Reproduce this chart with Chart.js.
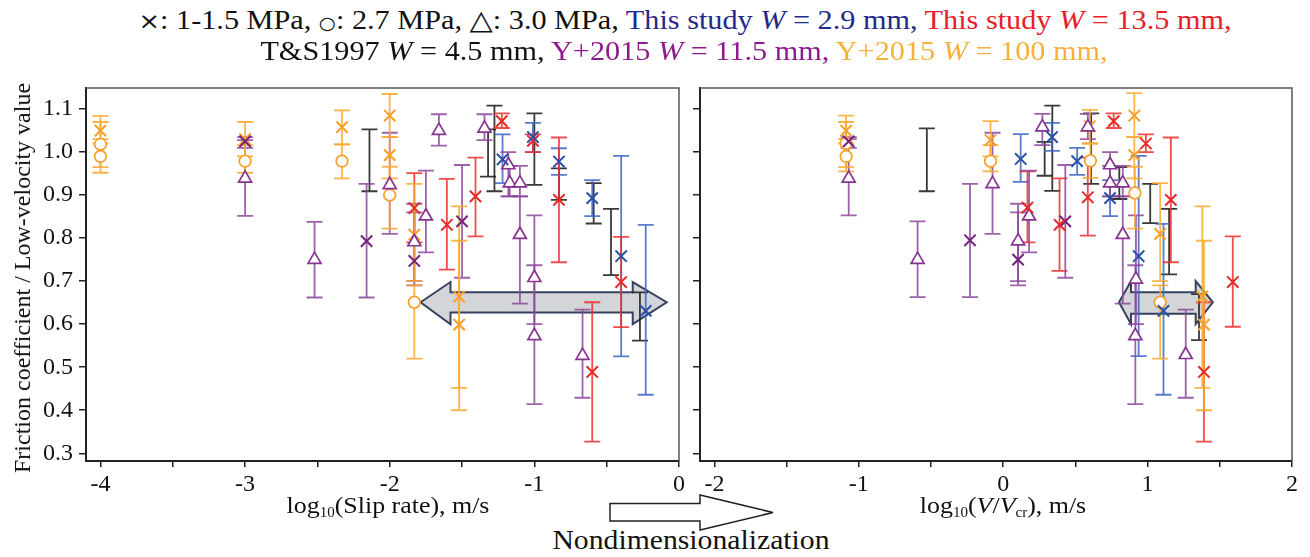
<!DOCTYPE html>
<html><head><meta charset="utf-8">
<script src="https://cdn.jsdelivr.net/npm/chart.js@4.4.1/dist/chart.umd.min.js"></script>
<style>
html,body{margin:0;padding:0;background:#fff;width:1310px;height:557px;overflow:hidden;font-family:"Liberation Serif","Times New Roman",serif;color:#111;}
#wrapL{position:absolute;left:0;top:60px;width:690px;height:460px;}
#wrapR{position:absolute;left:690px;top:60px;width:620px;height:460px;}
.t{position:absolute;white-space:nowrap;line-height:1;font-family:"Liberation Serif","Times New Roman",serif;}
.c{transform:translateX(-50%);}
sub{font-size:58%;vertical-align:-0.28em;line-height:0;}
.sym{font-family:"DejaVu Sans",sans-serif;font-size:85%;}
</style></head><body>
<script>
// ---------------- DATA ----------------
// each entry: [x, y, lowerBar, upperBar]
// Left panel: x = log10(slip rate)
const L_blueX   = [[-1.22,0.983,0.928,1.041],[-1.01,1.035,1.0,1.068],[-0.83,0.978,0.947,1.009],[-0.60,0.893,0.851,0.935],[-0.40,0.758,0.525,0.991],[-0.23,0.631,0.436,0.831]];
const L_redX    = [[-1.83,0.870,0.79,0.951],[-1.605,0.831,0.727,0.938],[-1.407,0.897,0.804,0.987],[-1.225,1.072,1.056,1.090],[-1.01,1.026,1.0,1.041],[-0.83,0.889,0.744,1.034],[-0.40,0.698,0.593,0.803],[-0.60,0.489,0.327,0.651]];
const L_black   = [[-2.14,0.98,0.909,1.053],[-1.32,1.0,0.943,1.053],[-1.276,1.01,0.909,1.108],[-1.0,1.0,0.924,1.090],[-0.83,0.93,0.889,0.962],[-0.59,0.88,0.834,0.928],[-0.47,0.79,0.714,0.868],[-0.27,0.62,0.562,0.674]];
const L_purpleX = [[-3.0,1.025,1.01,1.035],[-2.16,0.793,0.662,0.926],[-1.83,0.747,0.69,0.86],[-1.50,0.839,0.708,0.97]];
const L_purpleT = [[-3.0,0.939,0.852,1.028],[-2.52,0.75,0.662,0.838],[-2.0,0.924,0.81,1.045],[-1.83,0.791,0.70,0.88],[-1.75,0.851,0.767,0.957],[-1.66,1.05,1.015,1.088],[-1.345,1.055,1.028,1.088],[-1.18,0.97,0.897,1.0],[-1.17,0.928,0.897,0.968],[-1.10,0.928,0.897,0.968],[-1.10,0.808,0.648,0.897],[-1.0,0.708,0.60,0.853],[-1.0,0.573,0.414,0.737],[-0.667,0.527,0.429,0.634]];
const L_orangeX = [[-4.0,1.05,1.02,1.084],[-3.0,1.03,0.99,1.07],[-2.33,1.058,1.018,1.097],[-2.0,1.085,1.035,1.135],[-2.0,0.993,0.939,1.035],[-1.83,0.808,0.70,0.926],[-1.52,0.664,0.452,0.874],[-1.52,0.599,0.40,0.794]];
const L_orangeO = [[-4.0,1.018,0.965,1.07],[-4.0,0.99,0.952,1.03],[-3.0,0.979,0.952,1.016],[-2.33,0.979,0.939,1.018],[-2.0,0.90,0.822,0.966],[-1.83,0.651,0.52,0.69]];
// Right panel: x = log10(V/Vcr)
const R_blueX   = [[0.121,0.984,0.931,1.042],[0.338,1.035,1.003,1.068],[0.512,0.979,0.947,1.01],[0.74,0.893,0.851,0.935],[0.938,0.758,0.526,0.991],[1.11,0.631,0.436,0.833]];
const R_redX    = [[0.168,0.871,0.79,0.955],[0.39,0.831,0.724,0.939],[0.586,0.895,0.806,0.987],[0.765,1.072,1.056,1.09],[0.988,1.02,1.0,1.041],[1.161,0.889,0.744,1.034],[1.59,0.698,0.594,0.804],[1.39,0.489,0.327,0.651]];
const R_black   = [[-0.529,0.98,0.909,1.055],[0.287,0.98,0.945,1.024],[0.34,1.0,0.91,1.108],[0.609,1.0,0.926,1.09],[0.804,0.93,0.891,0.965],[1.018,0.88,0.835,0.926],[1.149,0.79,0.716,0.868],[1.356,0.62,0.563,0.67]];
const R_purpleX = [[-1.07,1.025,1.01,1.035],[-0.23,0.795,0.663,0.926],[0.103,0.75,0.69,0.86],[0.43,0.839,0.708,0.97]];
const R_purpleT = [[-1.07,0.939,0.853,1.03],[-0.593,0.75,0.663,0.839],[-0.074,0.926,0.81,1.045],[0.103,0.793,0.70,0.88],[0.179,0.851,0.767,0.957],[0.271,1.058,1.016,1.089],[0.586,1.058,1.03,1.089],[0.74,0.97,0.897,1.0],[0.74,0.928,0.897,0.968],[0.828,0.928,0.897,0.968],[0.828,0.808,0.648,0.897],[0.919,0.704,0.60,0.853],[0.915,0.573,0.414,0.737],[1.264,0.529,0.429,0.634]];
const R_orangeX = [[-1.088,1.05,1.02,1.085],[-0.088,1.028,0.99,1.072],[0.60,1.06,1.02,1.098],[0.908,1.085,1.035,1.137],[0.908,0.993,0.939,1.035],[1.087,0.81,0.70,0.928],[1.379,0.664,0.452,0.874],[1.39,0.599,0.40,0.794]];
const R_orangeO = [[-1.088,1.02,0.965,1.07],[-1.088,0.99,0.955,1.03],[-0.088,0.979,0.955,1.016],[0.604,0.98,0.94,1.02],[0.912,0.905,0.822,0.966],[1.087,0.651,0.52,0.69]];

// Tick values
const L_xTicks = [-4,-3.5,-3,-2.5,-2,-1.5,-1,-0.5,0];
const R_xTicks = [-2,-1.5,-1,-0.5,0,0.5,1,1.5,2];
const yTicks   = [0.3,0.4,0.5,0.6,0.7,0.8,0.9,1.0,1.1];

// Annotation arrows (data coordinates)
const L_arrow = {tipL:-1.787, backL:-1.58, backR:-0.32, tipR:-0.085, y:0.651, s0:0.627, s1:0.674, h0:0.600, h1:0.698};
const R_arrow = {tipL:0.802, backL:0.885, backR:1.333, tipR:1.452, y:0.651, s0:0.624, s1:0.674, h0:0.600, h1:0.700};
</script>

<div id="wrapL"><canvas id="cL" width="690" height="460"></canvas></div>
<div id="wrapR"><canvas id="cR" width="620" height="460"></canvas></div>

<div class="t c" style="left:685px;top:6px;font-size:27px;transform:translateX(-50%) scaleX(1.12);"><span class="sym">×</span>: 1-1.5 MPa, <span class="sym" style="font-size:65%">○</span>: 2.7 MPa, <span class="sym" style="font-size:100%">△</span>: 3.0 MPa, <span style="color:#1f2a8a">This study <i>W</i> = 2.9 mm,</span> <span style="color:#e8202a">This study <i>W</i> = 13.5 mm,</span></div>
<div class="t c" style="left:684px;top:38px;font-size:27px;transform:translateX(-50%) scaleX(1.12);">T&amp;S1997 <i>W</i> = 4.5 mm, <span style="color:#8e1b8e">Y+2015 <i>W</i> = 11.5 mm,</span> <span style="color:#f5b23a">Y+2015 <i>W</i> = 100 mm,</span></div>

<div class="t" style="left:22px;top:278px;font-size:24px;transform:translate(-50%,-50%) rotate(-90deg);">Friction coefficient / Low-velocity value</div>

<div class="t c" style="left:388px;top:493px;font-size:24px;transform:translateX(-50%) scaleX(1.08);">log<sub>10</sub>(Slip rate), m/s</div>
<div class="t c" style="left:1003px;top:493px;font-size:24px;transform:translateX(-50%) scaleX(1.08);">log<sub>10</sub>(<i>V</i>/<i>V</i><sub>cr</sub>), m/s</div>
<div class="t c" style="left:691px;top:527px;font-size:27px;transform:translateX(-50%) scaleX(1.1);">Nondimensionalization</div>

<svg style="position:absolute;left:0;top:0" width="1310" height="557">
  <polygon points="610,503.5 700,503.5 700,495 773,512.5 700,530 700,521 610,521" fill="#fff" stroke="#222" stroke-width="1.5"/>
</svg>

<script>
const SERIES = [
  {key:'black',   marker:false,      color:'#333',    bar:'rgba(35,35,35,0.9)'},
  {key:'blueX',   marker:'crossRot', color:'#2b50a6', bar:'rgba(60,100,195,0.85)'},
  {key:'redX',    marker:'crossRot', color:'#e62a2a', bar:'rgba(236,45,45,0.85)'},
  {key:'purpleX', marker:'crossRot', color:'#74237e', bar:'rgba(140,70,155,0.85)'},
  {key:'purpleT', marker:'triangle', color:'#86348f', bar:'rgba(140,70,155,0.85)'},
  {key:'orangeX', marker:'crossRot', color:'#f6a02a', bar:'rgba(248,168,45,0.85)'},
  {key:'orangeO', marker:'circle',   color:'#f6a02a', bar:'rgba(248,168,45,0.85)'},
];
const LEFT  = {black:L_black, blueX:L_blueX, redX:L_redX, purpleX:L_purpleX, purpleT:L_purpleT, orangeX:L_orangeX, orangeO:L_orangeO};
const RIGHT = {black:R_black, blueX:R_blueX, redX:R_redX, purpleX:R_purpleX, purpleT:R_purpleT, orangeX:R_orangeX, orangeO:R_orangeO};

function buildDatasets(src){
  return SERIES.map(s => ({
    label: s.key,
    data: src[s.key].map(([x,y,lo,hi]) => ({x,y,lo,hi})),
    barColor: s.bar,
    pointStyle: s.marker || 'circle',
    pointRadius: !s.marker ? 0 : (s.marker==='triangle' ? 7.5 : (s.marker==='circle' ? 5.8 : 8)),
    pointHoverRadius: 0,
    borderColor: s.color,
    backgroundColor: s.marker==='crossRot' ? s.color : '#fff',
    borderWidth: s.marker==='crossRot' ? 2 : 1.7,
    showLine: false
  }));
}

const CAP = 8;
const arrowPlugin = {
  id:'arrow',
  beforeDatasetsDraw(chart, args, opts){
    const a = opts.spec; if(!a) return;
    const {ctx, scales:{x,y}} = chart;
    const X = v => x.getPixelForValue(v), Y = v => y.getPixelForValue(v);
    ctx.save();
    ctx.beginPath();
    ctx.moveTo(X(a.tipL), Y(a.y));
    ctx.lineTo(X(a.backL), Y(a.h1));
    ctx.lineTo(X(a.backL), Y(a.s1));
    ctx.lineTo(X(a.backR), Y(a.s1));
    ctx.lineTo(X(a.backR), Y(a.h1));
    ctx.lineTo(X(a.tipR), Y(a.y));
    ctx.lineTo(X(a.backR), Y(a.h0));
    ctx.lineTo(X(a.backR), Y(a.s0));
    ctx.lineTo(X(a.backL), Y(a.s0));
    ctx.lineTo(X(a.backL), Y(a.h0));
    ctx.closePath();
    ctx.fillStyle = '#d3d5d8'; ctx.fill();
    ctx.strokeStyle = '#36425f'; ctx.lineWidth = 2; ctx.lineJoin='miter'; ctx.stroke();
    ctx.restore();
  }
};
const errorBars = {
  id:'errorBars',
  beforeDatasetsDraw(chart){
    const {ctx, scales:{x,y}} = chart;
    ctx.save();
    ctx.lineWidth = 1.8;
    chart.data.datasets.forEach(ds => {
      ctx.strokeStyle = ds.barColor;
      ds.data.forEach(p => {
        const px = x.getPixelForValue(p.x), yl = y.getPixelForValue(p.lo), yh = y.getPixelForValue(p.hi);
        ctx.beginPath();
        ctx.moveTo(px, yl); ctx.lineTo(px, yh);
        ctx.moveTo(px-CAP, yl); ctx.lineTo(px+CAP, yl);
        ctx.moveTo(px-CAP, yh); ctx.lineTo(px+CAP, yh);
        ctx.stroke();
      });
    });
    ctx.restore();
  }
};
const frame = {
  id:'frame',
  afterDraw(chart){
    const {ctx, chartArea:a} = chart;
    ctx.save();
    ctx.strokeStyle = '#555'; ctx.lineWidth = 1.5;
    ctx.beginPath();
    ctx.moveTo(a.left, a.top); ctx.lineTo(a.right, a.top); ctx.lineTo(a.right, a.bottom);
    ctx.stroke();
    ctx.restore();
  }
};

const tickFont = {family:'"Liberation Serif","Times New Roman",serif', size:24};
function makeChart(id, src, xMin, xMax, xTicks, yWidth, showYLabels, padR, arrow){
  return new Chart(document.getElementById(id), {
    type:'scatter',
    data:{datasets: buildDatasets(src)},
    options:{
      responsive:false, animation:false, events:[],
      layout:{padding:{top:28, right:padR, left:0, bottom:0}},
      plugins:{legend:{display:false}, tooltip:{enabled:false}, arrow:{spec:arrow}},
      scales:{
        x:{type:'linear', min:xMin, max:xMax,
           afterBuildTicks: ax => { ax.ticks = xTicks.map(v => ({value:v})); },
           afterFit: s => { s.height = 59; },
           grid:{drawOnChartArea:false, drawTicks:true, tickLength:6, color:'#222', lineWidth:1.5},
           border:{display:true, color:'#222', width:2},
           ticks:{autoSkip:false, maxRotation:0, padding:3, font:tickFont, color:'#111',
                  callback: v => Number.isInteger(v) ? String(v) : ''}},
        y:{type:'linear', min:0.282, max:1.149,
           afterBuildTicks: ax => { ax.ticks = yTicks.map(v => ({value:v})); },
           afterFit: s => { s.width = yWidth; },
           grid:{drawOnChartArea:false, drawTicks:true, tickLength:7, color:'#222', lineWidth:1.5},
           border:{display:true, color:'#222', width:2},
           ticks:{padding:6, font:tickFont, color:'#111', display:showYLabels,
                  callback: v => v.toFixed(1)}}
      }
    },
    plugins:[arrowPlugin, errorBars, frame]
  });
}
makeChart('cL', LEFT, -4.1, 0, L_xTicks, 86, true, 11, L_arrow);
makeChart('cR', RIGHT, -2.1, 2.0, R_xTicks, 7, false, 18, R_arrow);
</script>
</body></html>
